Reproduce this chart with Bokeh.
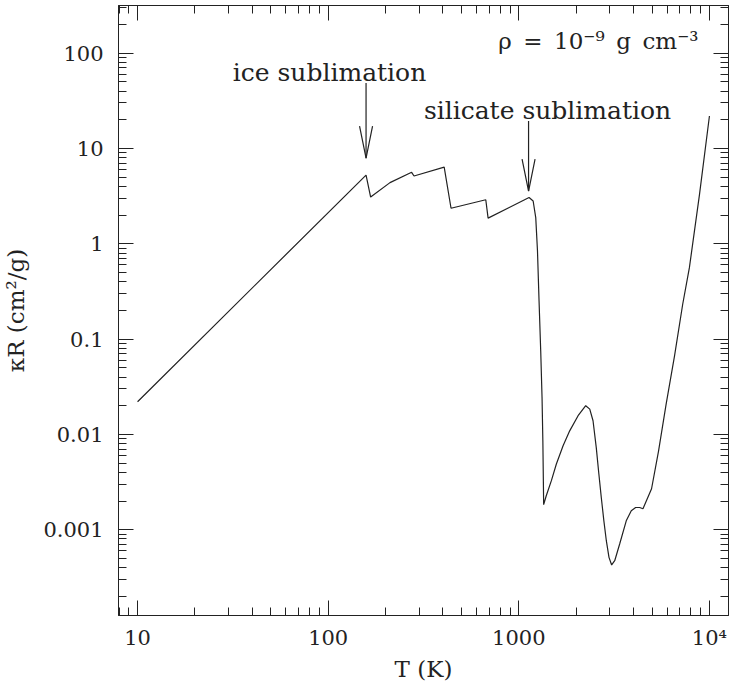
import math

from bokeh.embed import file_html
from bokeh.models import FixedTicker, Label, LogAxis, Range1d
from bokeh.plotting import figure
from bokeh.resources import INLINE

# Rosseland mean opacity of the dust/gas mixture at rho = 1e-9 g cm^-3
temperature_K = [
    10, 158, 167, 211, 274, 282, 406, 441, 671, 690,
    1132, 1189, 1227, 1253, 1277, 1303, 1324, 1337, 1350,
    1393, 1482, 1574, 1707, 1849, 2046, 2244, 2356, 2451, 2548,
    2630, 2708, 2794, 2878, 2972, 3069, 3185, 3381, 3661, 3890,
    4100, 4306, 4480, 4970, 5410, 5930, 6560, 7240, 7850, 8870, 10000,
]
kappa_R = [
    0.022, 5.26, 3.09, 4.38, 5.62, 5.14, 6.38, 2.36, 2.90, 1.86,
    3.06, 2.81, 1.88, 0.84, 0.251, 0.0751, 0.0244, 0.0086, 0.00183,
    0.00227, 0.00327, 0.00489, 0.0076, 0.0109, 0.0157, 0.0200, 0.0184, 0.0139, 0.0073,
    0.00384, 0.00218, 0.00124, 0.000767, 0.000513, 0.000427, 0.000473, 0.000708, 0.00124, 0.00158,
    0.00171, 0.00171, 0.00166, 0.00269, 0.00673, 0.0209, 0.0667, 0.232, 0.562, 3.30, 21.9,
]

# sublimation markers: temperature, arrow tail and tip opacity
arrow_T = [158, 1125]
arrow_tail = [48.5, 19.4]
arrow_tip = [7.9, 3.57]

x_ticks = [10, 100, 1000, 10000]
x_tick_labels = ["10", "100", "1000", "10\u2074"]
y_ticks = [0.001, 0.01, 0.1, 1, 10, 100]
y_tick_labels = ["0.001", "0.01", "0.1", "1", "10", "100"]

x_title = "T (K)"
y_title = "\u03baR (cm\u00b2/g)"

x_lo, x_hi = 10 ** 0.9, 10 ** 4.1
y_lo, y_hi = 10 ** -3.9, 10 ** 2.5

W, H = 729, 687
BL, BR, BT, BB = 118, 1, 5, 72
FW, FH = W - BL - BR, H - BT - BB

INK = "#222222"
SERIF = "DejaVu Serif"

p = figure(
    width=W, height=H,
    x_axis_type="log", y_axis_type="log",
    x_range=Range1d(x_lo, x_hi), y_range=Range1d(y_lo, y_hi),
    output_backend="svg", toolbar_location=None,
    min_border_left=BL, min_border_right=BR, min_border_top=BT, min_border_bottom=BB,
    background_fill_color="white", border_fill_color="white",
)
p.grid.visible = False
p.outline_line_color = INK
p.outline_line_width = 1


def minor_ticks(lo_exp, hi_exp):
    return [k * 10.0 ** e for e in range(lo_exp, hi_exp) for k in range(2, 10)]


x_ticker = FixedTicker(ticks=x_ticks, minor_ticks=minor_ticks(0, 5))
y_ticker = FixedTicker(ticks=y_ticks, minor_ticks=minor_ticks(-4, 3))


def style_axis(ax, ticker, overrides, show_labels, standoff):
    ax.ticker = ticker
    ax.axis_line_color = INK
    ax.major_tick_line_color = INK
    ax.minor_tick_line_color = INK
    ax.major_tick_in = 15
    ax.major_tick_out = 0
    ax.minor_tick_in = 8
    ax.minor_tick_out = 0
    ax.major_label_overrides = overrides
    if show_labels:
        ax.major_label_text_font = SERIF
        ax.major_label_text_font_size = "21px"
        ax.major_label_text_color = INK
        ax.major_label_standoff = standoff
    else:
        ax.major_label_text_color = None
        ax.major_label_text_font_size = "1px"
        ax.major_label_standoff = 0


x_over = dict(zip(x_ticks, x_tick_labels))
y_over = dict(zip(y_ticks, y_tick_labels))

xa, ya = p.xaxis[0], p.yaxis[0]
style_axis(xa, x_ticker, x_over, True, 10)
style_axis(ya, y_ticker, y_over, True, 15)

for ax, title, standoff in ((xa, x_title, 3), (ya, y_title, 11)):
    ax.axis_label = title
    ax.axis_label_text_font = SERIF
    ax.axis_label_text_font_size = "23px"
    ax.axis_label_text_font_style = "normal"
    ax.axis_label_text_color = INK
    ax.axis_label_standoff = standoff

top_axis = LogAxis()
right_axis = LogAxis()
style_axis(top_axis, x_ticker, x_over, False, 0)
style_axis(right_axis, y_ticker, y_over, False, 0)
p.add_layout(top_axis, "above")
p.add_layout(right_axis, "right")

# opacity curve
p.line(temperature_K, kappa_R, line_color=INK, line_width=1.2)

# arrows: shafts plus narrow open heads sized in pixels
px_per_dec_x = FW / math.log10(x_hi / x_lo)
px_per_dec_y = FH / math.log10(y_hi / y_lo)
head_len, head_half = 32, 6.5
fx = 10 ** (head_half / px_per_dec_x)
fy = 10 ** (head_len / px_per_dec_y)

p.segment(x0=arrow_T, y0=arrow_tail, x1=arrow_T, y1=arrow_tip, line_color=INK, line_width=1.2)
head_xs = [[t / fx, t, t * fx] for t in arrow_T]
head_ys = [[k * fy, k, k * fy] for k in arrow_tip]
p.multi_line(head_xs, head_ys, line_color=INK, line_width=1.2)


def make_label(text, x, y, size, align="left"):
    return Label(
        x=x, y=y, x_units="screen", y_units="screen", text=text,
        text_font=SERIF, text_font_size=size, text_color=INK,
        text_align=align, text_baseline="alphabetic",
    )


# in-frame annotations (screen units from the frame's lower-left corner)
EN = "\u2002"
p.add_layout(make_label("ice sublimation", 211, 543, "25px", align="center"))
p.add_layout(make_label("silicate sublimation", 429, 505, "25px", align="center"))
p.add_layout(make_label(
    "\u03c1" + EN + "=" + EN + "10\u207b\u2079" + EN + "g" + EN + "cm\u207b\u00b3",
    580, 575, "23px", align="right"))

open("out.html", "w").write(file_html(p, INLINE))
